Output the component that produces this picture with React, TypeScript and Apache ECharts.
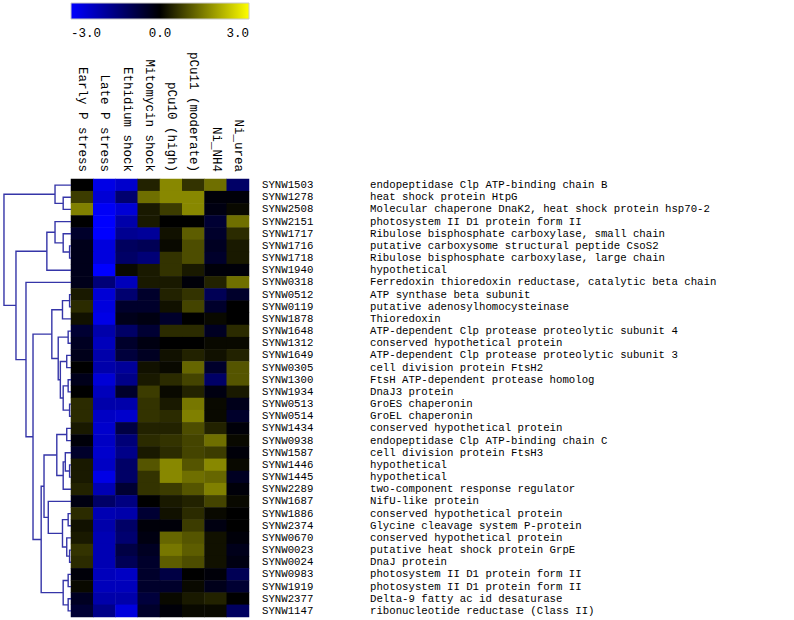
import React, { useEffect, useRef } from "react";
import * as echarts from "echarts";

const conditions = [
  "Early P stress",
  "Late P stress",
  "Ethidium shock",
  "Mitomycin shock",
  "pCu10 (high)",
  "pCu11 (moderate)",
  "Ni_NH4",
  "Ni_urea",
];

const geneIds = [
  "SYNW1503", "SYNW1278", "SYNW2508", "SYNW2151", "SYNW1717", "SYNW1716",
  "SYNW1718", "SYNW1940", "SYNW0318", "SYNW0512", "SYNW0119", "SYNW1878",
  "SYNW1648", "SYNW1312", "SYNW1649", "SYNW0305", "SYNW1300", "SYNW1934",
  "SYNW0513", "SYNW0514", "SYNW1434", "SYNW0938", "SYNW1587", "SYNW1446",
  "SYNW1445", "SYNW2289", "SYNW1687", "SYNW1886", "SYNW2374", "SYNW0670",
  "SYNW0023", "SYNW0024", "SYNW0983", "SYNW1919", "SYNW2377", "SYNW1147",
];

const geneNames = [
  "endopeptidase Clp ATP-binding chain B",
  "heat shock protein HtpG",
  "Molecular chaperone DnaK2, heat shock protein hsp70-2",
  "photosystem II D1 protein form II",
  "Ribulose bisphosphate carboxylase, small chain",
  "putative carboxysome structural peptide CsoS2",
  "Ribulose bisphosphate carboxylase, large chain",
  "hypothetical",
  "Ferredoxin thioredoxin reductase, catalytic beta chain",
  "ATP synthase beta subunit",
  "putative adenosylhomocysteinase",
  "Thioredoxin",
  "ATP-dependent Clp protease proteolytic subunit 4",
  "conserved hypothetical protein",
  "ATP-dependent Clp protease proteolytic subunit 3",
  "cell division protein FtsH2",
  "FtsH ATP-dependent protease homolog",
  "DnaJ3 protein",
  "GroES chaperonin",
  "GroEL chaperonin",
  "conserved hypothetical protein",
  "endopeptidase Clp ATP-binding chain C",
  "cell division protein FtsH3",
  "hypothetical",
  "hypothetical",
  "two-component response regulator",
  "NifU-like protein",
  "conserved hypothetical protein",
  "Glycine cleavage system P-protein",
  "conserved hypothetical protein",
  "putative heat shock protein GrpE",
  "DnaJ protein",
  "photosystem II D1 protein form II",
  "photosystem II D1 protein form II",
  "Delta-9 fatty ac id desaturase",
  "ribonucleotide reductase (Class II)",
];

// log-ratio values, one row per gene, one column per condition
const expression: number[][] = [
  [0.0, -2.7, -2.4, 0.4, 1.6, 0.6, 1.3, -1.2],
  [0.7, -2.5, -1.3, 1.3, 1.6, 1.6, -0.1, -0.1],
  [1.5, -2.9, -2.5, 0.3, 0.7, 1.6, -0.2, 0.1],
  [0.0, -3.0, -2.0, 0.3, 0.0, 0.0, -0.6, 1.3],
  [-0.5, -3.0, -1.7, -1.8, 0.2, 1.1, -0.5, 0.5],
  [-0.3, -2.6, -1.1, -1.0, 0.1, 0.9, -0.4, 0.3],
  [-0.3, -2.6, -1.2, -1.4, 0.6, 0.9, -0.5, 0.3],
  [-0.3, -3.0, 0.1, 0.3, 0.6, 0.3, -0.1, -0.1],
  [-0.3, -1.4, -2.2, 0.3, 0.3, -0.1, 0.4, 1.3],
  [0.3, -2.5, -1.3, -0.5, 0.4, 0.6, -1.0, -0.5],
  [0.5, -2.6, -0.5, -0.5, 0.2, 0.8, -0.5, 0.0],
  [0.2, -2.7, -0.3, -0.2, -0.5, 0.0, 0.1, 0.0],
  [-0.6, -2.0, -1.2, -0.6, 0.5, 0.5, -0.4, 0.5],
  [-0.4, -2.2, -0.5, -0.2, 0.0, 0.0, 0.1, 0.1],
  [-0.3, -2.0, -0.7, -0.4, 0.2, 0.4, 0.2, 0.4],
  [0.0, -2.0, -1.8, 0.2, 0.1, 1.2, -0.5, 1.0],
  [-0.3, -2.5, -1.6, 0.3, 0.5, 0.8, -1.2, 1.0],
  [0.0, -2.2, -0.5, 0.7, 0.1, 0.4, -0.2, 0.3],
  [0.5, -2.0, -2.0, 0.6, 0.3, 1.4, 0.1, -0.3],
  [0.5, -2.3, -2.4, 0.6, 0.5, 1.5, 0.1, -0.5],
  [0.3, -2.4, -0.8, 0.4, 0.4, 0.9, 0.4, -0.1],
  [-0.1, -2.3, -1.4, 0.5, 0.6, 0.8, 1.3, 0.1],
  [-0.5, -2.4, -1.6, 0.3, 0.5, 0.8, 0.7, -0.1],
  [0.3, -2.3, -1.2, 1.0, 1.6, 1.0, 1.6, 0.1],
  [0.3, -2.7, -1.2, 0.6, 1.6, 1.3, 1.2, -0.4],
  [0.4, -2.1, -0.6, 0.6, 0.7, 1.0, 1.5, -0.1],
  [-0.2, -1.2, -1.5, 0.0, 0.3, 0.4, 0.8, 0.1],
  [0.5, -2.1, -2.0, -0.6, 0.2, 0.5, 0.1, 0.0],
  [0.2, -2.0, -1.2, -0.1, -0.1, 0.7, -0.2, 0.0],
  [0.3, -2.1, -1.3, -0.2, 1.2, 1.0, 0.2, -0.1],
  [0.6, -2.1, -0.8, -0.4, 1.4, 1.1, 0.2, -0.3],
  [0.5, -2.1, -1.0, -0.5, 1.1, 0.9, 0.2, -0.2],
  [-0.1, -2.2, -2.3, -0.5, -0.8, 0.0, -0.1, -1.0],
  [0.1, -2.2, -2.2, -0.5, -0.5, 0.1, -0.3, -0.6],
  [-0.4, -2.0, -2.0, -0.7, 0.1, 0.3, 0.4, 0.0],
  [-0.6, -1.6, -2.6, -0.5, -0.1, 0.1, 0.1, -1.1],
];

const scaleTicks = [-3, 0, 3];

// hierarchical clustering: [node, child A, child B, merge distance]; numbers are row indexes
const dendroLinks: [string, number | string, number | string, number][] = [
  ["a1", 1, 2, 0.11],
  ["A", 0, "a1", 0.225],
  ["b1", 5, 6, 0.02],
  ["b2", 4, "b1", 0.11],
  ["b3", 3, "b2", 0.225],
  ["B", "b3", 7, 0.34],
  ["e1", 9, 10, 0.02],
  ["E1", "e1", 11, 0.12],
  ["e2", 12, 13, 0.04],
  ["e3", 14, 15, 0.06],
  ["e4", 16, 17, 0.04],
  ["e5", 18, 19, 0.02],
  ["e6", "e4", "e5", 0.11],
  ["e7", "e3", "e6", 0.15],
  ["E2", "e2", "e7", 0.18],
  ["E", "E1", "E2", 0.27],
  ["g1", 20, 21, 0.06],
  ["g2", 23, 24, 0.02],
  ["g3", 22, "g2", 0.08],
  ["g4", "g3", 25, 0.11],
  ["G", "g1", "g4", 0.2],
  ["h1", 27, 28, 0.04],
  ["h2", 30, 31, 0.02],
  ["h3", 29, "h2", 0.06],
  ["h4", "h1", "h3", 0.12],
  ["H", 26, "h4", 0.32],
  ["f1", 32, 33, 0.04],
  ["f2", 34, 35, 0.04],
  ["F2", "f1", "f2", 0.11],
  ["F1", "G", "H", 0.38],
  ["F", "F1", "F2", 0.42],
  ["D", "E", "F", 0.535],
  ["C", 8, "D", 0.634],
  ["BC", "B", "C", 0.775],
  ["root", "A", "BC", 0.944],
];

const FONT = "'Liberation Mono', 'DejaVu Sans Mono', monospace";

export default function App() {
  const ref = useRef<HTMLDivElement>(null);

  useEffect(() => {
    if (!ref.current) return;
    document.body.style.margin = "0";
    const chart = echarts.init(ref.current, null, { renderer: "svg" });

    const heatData: number[][] = [];
    expression.forEach((row, r) =>
      row.forEach((v, c) => heatData.push([c, r, v]))
    );

    // dendrogram node positions
    const pos: Record<string, { y: number; h: number }> = {};
    const getNode = (k: number | string) =>
      typeof k === "number" ? { y: k, h: 0 } : pos[k];
    const segs: number[][] = [];
    dendroLinks.forEach(([name, a, b, h]) => {
      const na = getNode(a);
      const nb = getNode(b);
      pos[name] = { y: (na.y + nb.y) / 2, h };
      segs.push([na.h, na.y, nb.h, nb.y, h]);
    });

    const top = 179;
    const height = 438;
    const left = 71;
    const width = 178;
    const colText = {
      fontFamily: FONT,
      fontSize: 12.5,
      lineHeight: 12,
      color: "#000",
    };
    const rowText = {
      fontFamily: FONT,
      fontSize: 10.7,
      lineHeight: 11,
      color: "#000",
    };

    chart.setOption({
      animation: false,
      backgroundColor: "#ffffff",
      grid: [
        { left, top, width, height },
        { left: 0, top, width: left, height },
        { left, top: 3, width, height: 16 },
      ],
      xAxis: [
        {
          type: "category",
          gridIndex: 0,
          data: conditions,
          position: "top",
          axisLine: { show: false },
          axisTick: { show: false },
          splitLine: { show: false },
          axisLabel: { rotate: 90, margin: 7, interval: 0, ...colText },
        },
        {
          type: "value",
          gridIndex: 1,
          min: 0,
          max: 1,
          inverse: true,
          show: false,
        },
        {
          type: "value",
          gridIndex: 2,
          min: -3,
          max: 3,
          interval: 3,
          axisLine: { show: false },
          axisTick: { show: false },
          splitLine: { show: false },
          axisLabel: {
            margin: 9,
            ...colText,
            alignMinLabel: "left",
            alignMaxLabel: "right",
            formatter: (v: number) => v.toFixed(1),
          },
          data: scaleTicks,
        },
      ],
      yAxis: [
        {
          type: "category",
          gridIndex: 0,
          data: geneIds,
          inverse: true,
          position: "right",
          axisLine: { show: false },
          axisTick: { show: false },
          splitLine: { show: false },
          axisLabel: { margin: 13, interval: 0, ...rowText },
        },
        {
          type: "value",
          gridIndex: 1,
          min: -0.5,
          max: expression.length - 0.5,
          inverse: true,
          show: false,
        },
        {
          type: "category",
          gridIndex: 2,
          data: ["scale"],
          show: false,
        },
        {
          type: "category",
          gridIndex: 0,
          data: geneNames,
          inverse: true,
          position: "right",
          axisLine: { show: false },
          axisTick: { show: false },
          splitLine: { show: false },
          axisLabel: { margin: 121, interval: 0, ...rowText },
        },
      ],
      visualMap: {
        show: false,
        type: "continuous",
        min: -3,
        max: 3,
        seriesIndex: 0,
        inRange: { color: ["#0000ff", "#000000", "#ffff00"] },
      },
      graphic: [
        {
          type: "rect",
          shape: { x: left, y: 3, width, height: 16 },
          style: {
            fill: new echarts.graphic.LinearGradient(0, 0, 1, 0, [
              { offset: 0, color: "#0000ff" },
              { offset: 0.5, color: "#000000" },
              { offset: 1, color: "#ffff00" },
            ]),
            stroke: "#c8c8c8",
            lineWidth: 1,
          },
        },
      ],
      series: [
        {
          type: "heatmap",
          xAxisIndex: 0,
          yAxisIndex: 0,
          data: heatData,
          itemStyle: { borderWidth: 0 },
          emphasis: { disabled: true },
        },
        {
          type: "custom",
          xAxisIndex: 1,
          yAxisIndex: 1,
          data: segs,
          encode: { x: [0, 2, 4], y: [1, 3] },
          renderItem: (params: any, api: any) => {
            const hA = api.value(0);
            const yA = api.value(1);
            const hB = api.value(2);
            const yB = api.value(3);
            const h = api.value(4);
            const pts = [
              api.coord([hA, yA]),
              api.coord([h, yA]),
              api.coord([h, yB]),
              api.coord([hB, yB]),
            ];
            return {
              type: "polyline",
              shape: { points: pts },
              style: { stroke: "#3535a8", lineWidth: 1.4, fill: "none" },
            };
          },
        },
      ],
    });

    return () => chart.dispose();
  }, []);

  return (
    <div
      ref={ref}
      style={{ width: 794, height: 620, position: "absolute", left: 0, top: 0 }}
    />
  );
}
